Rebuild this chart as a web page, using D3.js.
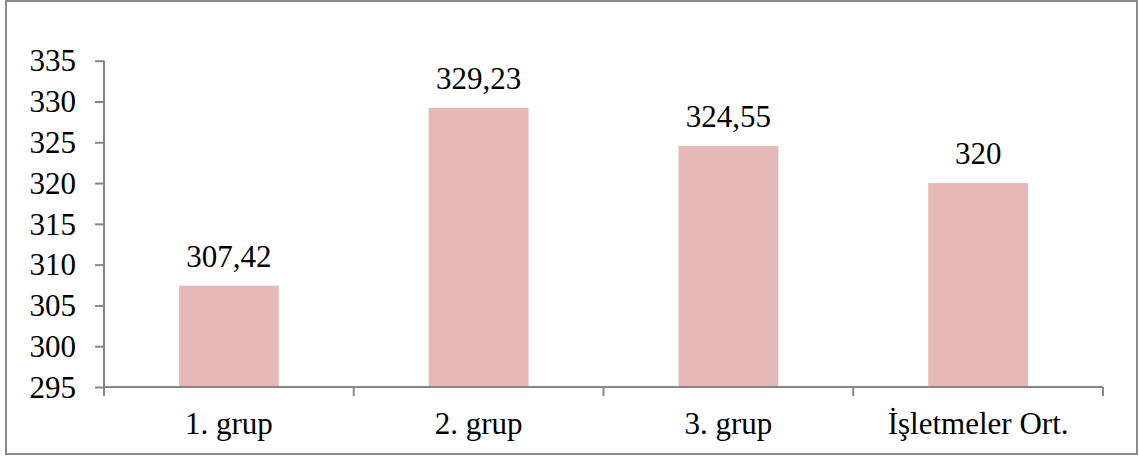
<!DOCTYPE html>
<html>
<head>
<meta charset="utf-8">
<script src="https://cdn.jsdelivr.net/npm/d3@7"></script>
<style>
  html, body { margin: 0; padding: 0; background: #fff; }
  svg { display: block; }
  text { font-family: "Liberation Serif", "Times New Roman", serif; fill: #000; }
</style>
</head>
<body>
<svg id="chart" width="1139" height="456"></svg>
<script>
// Group averages
const categories = ["1. grup", "2. grup", "3. grup", "İşletmeler Ort."];
const values = [307.42, 329.23, 324.55, 320];
const valueLabels = ["307,42", "329,23", "324,55", "320"];
const yTicks = [295, 300, 305, 310, 315, 320, 325, 330, 335];

const FONT = "'Liberation Serif', 'Times New Roman', serif";
const FS = 31;

const svg = d3.select("#chart");
const plot = { left: 104, right: 1103, top: 60.7, bottom: 387 };

// Outer frame
svg.append("rect")
  .attr("x", 6).attr("y", 1)
  .attr("width", 1131).attr("height", 453)
  .attr("fill", "#fff")
  .attr("stroke", "#8a8a8a")
  .attr("stroke-width", 2);

const x = d3.scaleBand()
  .domain(categories)
  .range([plot.left, plot.right])
  .paddingInner(0.6)
  .paddingOuter(0.3);

const y = d3.scaleLinear()
  .domain([295, 335])
  .range([plot.bottom, plot.top]);

// Bars
svg.append("g").selectAll("rect")
  .data(values)
  .join("rect")
  .attr("x", (d, i) => x(categories[i]))
  .attr("width", x.bandwidth())
  .attr("y", d => y(d))
  .attr("height", d => y(295) - y(d))
  .attr("fill", "#e6b8b7");

// Value labels
svg.append("g").selectAll("text")
  .data(values)
  .join("text")
  .attr("x", (d, i) => x(categories[i]) + x.bandwidth() / 2)
  .attr("y", d => y(d) - 19)
  .attr("text-anchor", "middle")
  .style("font-family", FONT)
  .style("font-size", FS + "px")
  .text((d, i) => valueLabels[i]);

// Y axis
const yAxis = d3.axisLeft(y).tickValues(yTicks).tickSize(9).tickPadding(19)
  .tickFormat(d3.format("d"));
const gy = svg.append("g")
  .attr("transform", `translate(${plot.left},0)`)
  .call(yAxis);
gy.select(".domain").attr("stroke", "#868686").attr("stroke-width", 2)
  .attr("d", `M0,${plot.top}V${plot.bottom}`);
gy.selectAll(".tick line").attr("stroke", "#868686").attr("stroke-width", 2);
gy.selectAll(".tick text")
  .style("font-family", FONT)
  .style("font-size", FS + "px")
  .attr("dy", "0.33em");

// X axis: line plus boundary ticks between categories
const gx = svg.append("g").attr("transform", `translate(0,${plot.bottom})`);
gx.append("line")
  .attr("x1", plot.left).attr("x2", plot.right)
  .attr("stroke", "#868686").attr("stroke-width", 2);
const bounds = d3.range(categories.length + 1)
  .map(i => plot.left + i * (plot.right - plot.left) / categories.length);
gx.selectAll("line.b")
  .data(bounds)
  .join("line")
  .attr("class", "b")
  .attr("x1", d => d).attr("x2", d => d)
  .attr("y1", 0).attr("y2", 9)
  .attr("stroke", "#868686").attr("stroke-width", 2);
gx.selectAll("text")
  .data(categories)
  .join("text")
  .attr("x", d => x(d) + x.bandwidth() / 2)
  .attr("y", 47)
  .attr("text-anchor", "middle")
  .style("font-family", FONT)
  .style("font-size", FS + "px")
  .text(d => d);
</script>
</body>
</html>
